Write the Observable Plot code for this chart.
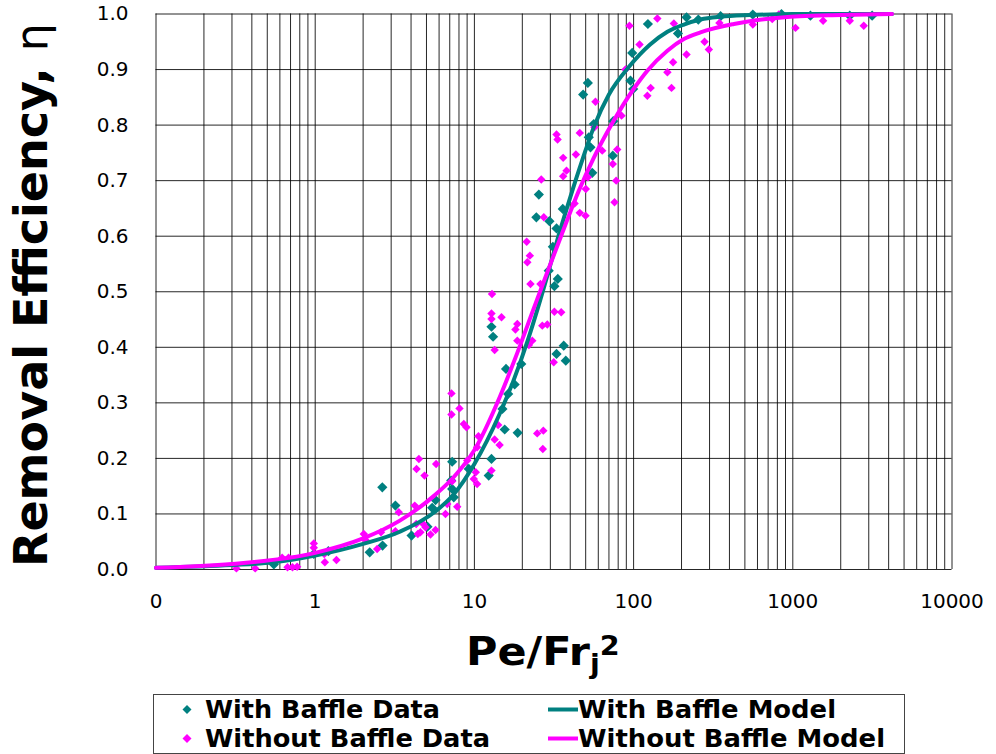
<!DOCTYPE html>
<html>
<head>
<meta charset="utf-8">
<script src="https://cdn.jsdelivr.net/npm/d3@7"></script>
<script src="https://cdn.jsdelivr.net/npm/@observablehq/plot@0.6"></script>
<style>
  body { margin: 0; background: #fff; }
  #chart { width: 996px; font-family: "DejaVu Sans", Verdana, sans-serif; }
  #chart svg { display: block; }
</style>
</head>
<body>
<div id="chart"></div>
<script>
// Measured removal efficiency with the baffle installed: [Pe/Frj², η]
const withBaffleData = [
  [0.55, 0.009], [0.98, 0.028], [1.21, 0.033], [2.2, 0.031], [2.65, 0.043],
  [2.64, 0.148], [3.19, 0.115], [4.03, 0.061], [5.07, 0.077], [5.43, 0.111],
  [5.7, 0.125], [7.25, 0.194], [7.15, 0.160], [7.25, 0.145], [7.42, 0.130],
  [9.22, 0.181], [12.8, 0.199], [12.3, 0.169], [15.0, 0.289], [15.5, 0.252],
  [18.7, 0.246], [16.3, 0.316], [17.9, 0.333], [15.8, 0.361], [19.7, 0.370],
  [12.8, 0.437], [13.1, 0.419], [29.3, 0.538], [33.4, 0.523], [31.8, 0.510],
  [36.4, 0.403], [32.8, 0.388], [37.5, 0.376], [31.1, 0.581], [32.8, 0.614],
  [29.6, 0.627], [24.5, 0.634], [25.4, 0.675], [35.9, 0.649], [55.0, 0.714],
  [74.0, 0.745], [53.6, 0.760], [52.3, 0.778], [56.2, 0.802], [74.5, 0.807],
  [48.2, 0.855], [51.6, 0.876], [99.4, 0.865], [95.6, 0.880], [98, 0.930],
  [123, 0.982], [190, 0.965], [215, 0.994], [255, 0.990], [352, 0.996],
  [561, 0.999], [849, 1.0], [1290, 0.997], [2280, 0.997], [3150, 0.997]
];

// Measured removal efficiency without the baffle: [Pe/Frj², η]
const withoutBaffleData = [
  [0.32, 0.002], [0.42, 0.002], [0.62, 0.021], [0.68, 0.021], [0.67, 0.004],
  [0.72, 0.004], [0.77, 0.005], [0.98, 0.047], [0.98, 0.039], [1.15, 0.013],
  [1.14, 0.028], [1.36, 0.017], [2.02, 0.064], [2.07, 0.053], [2.45, 0.037],
  [2.59, 0.067], [3.19, 0.069], [3.35, 0.103], [4.22, 0.115], [4.33, 0.181],
  [4.48, 0.199], [4.86, 0.169], [5.75, 0.190], [4.31, 0.082], [4.77, 0.082],
  [4.93, 0.076], [4.41, 0.064], [4.58, 0.067], [5.30, 0.063], [5.70, 0.071],
  [6.58, 0.100], [6.75, 0.118], [7.80, 0.113], [7.25, 0.159], [7.18, 0.317],
  [7.18, 0.279], [8.06, 0.290], [8.58, 0.262], [8.92, 0.256], [9.01, 0.196],
  [10.2, 0.175], [9.91, 0.163], [10.4, 0.154], [10.6, 0.240], [10.4, 0.220],
  [12.8, 0.178], [13.4, 0.234], [14.4, 0.224], [14.1, 0.260], [12.9, 0.496],
  [12.8, 0.461], [12.8, 0.451], [14.8, 0.454], [13.4, 0.395], [18.6, 0.442],
  [18.1, 0.432], [18.6, 0.412], [23.1, 0.412], [22.0, 0.404], [31.5, 0.373],
  [24.8, 0.245], [27.1, 0.250], [26.9, 0.217], [22.3, 0.565], [21.5, 0.553],
  [22.5, 0.514], [26.0, 0.514], [26.7, 0.439], [28.7, 0.441], [31.8, 0.464],
  [35.1, 0.463], [21.3, 0.590], [26.3, 0.702], [27.3, 0.634], [32.8, 0.783],
  [33.3, 0.774], [36.1, 0.741], [36.1, 0.708], [37.9, 0.718], [43.4, 0.747],
  [45.9, 0.786], [42.6, 0.659], [45.9, 0.642], [49.9, 0.637], [50.1, 0.685],
  [51.6, 0.706], [57.6, 0.842], [56.8, 0.796], [63.5, 0.754], [74.0, 0.730],
  [77.7, 0.700], [75.9, 0.661], [78.9, 0.756], [84.0, 0.817], [88.9, 0.900],
  [94.2, 0.979], [109, 0.945], [122, 0.853], [128, 0.867], [141, 0.992],
  [163, 0.895], [177, 0.913], [173, 0.867], [179, 0.983], [215, 0.927],
  [279, 0.950], [297, 0.936], [346, 0.984], [561, 0.981], [743, 0.991],
  [817, 0.999], [1040, 0.975], [1550, 0.988], [2280, 0.988], [2790, 0.979]
];

// Fitted model curves: [Pe/Frj², η]
const withBaffleModel = [
  [0.1, 0.003], [0.3, 0.008], [0.55, 0.013], [1, 0.025], [2, 0.046],
  [3.4, 0.068], [5.6, 0.103], [7.4, 0.135], [10, 0.190], [14.4, 0.280],
  [17.6, 0.340], [21.5, 0.410], [25, 0.470], [29.3, 0.538], [33.3, 0.595],
  [40, 0.670], [48, 0.740], [56, 0.795], [70, 0.855], [93, 0.904],
  [127, 0.945], [163, 0.968], [207, 0.981], [263, 0.990], [352, 0.995],
  [540, 0.998], [1000, 1.0], [4200, 1.0]
];
const withoutBaffleModel = [
  [0.1, 0.003], [0.3, 0.010], [1, 0.030], [2, 0.056], [3.4, 0.088],
  [5.6, 0.133], [7.4, 0.166], [10, 0.215], [14.5, 0.312], [18.6, 0.390],
  [23.6, 0.470], [28.7, 0.535], [35, 0.600], [45, 0.680], [56, 0.740],
  [74, 0.805], [100, 0.865], [122, 0.898], [163, 0.934], [207, 0.955],
  [263, 0.967], [427, 0.982], [680, 0.991], [1100, 0.996], [2000, 0.998],
  [4200, 1.0]
];

// Axis ticks and labels
const xTicks = [0.1, 1, 10, 100, 1000, 10000];
const xTickLabels = ["0", "1", "10", "100", "1000", "10000"];
const yTicks = [0, 0.1, 0.2, 0.3, 0.4, 0.5, 0.6, 0.7, 0.8, 0.9, 1.0];

const teal = "#008080";
const magenta = "#ff00ff";
const font = "'DejaVu Sans', Verdana, sans-serif";

// Minor log grid: 1–9 in every decade
const xGrid = d3.scaleLog().domain([0.1, 10000]).ticks();

const px = d => d[0], py = d => d[1];

const plot = Plot.plot({
  width: 996,
  height: 690,
  marginLeft: 155.5,
  marginRight: 44.5,
  marginTop: 13.5,
  marginBottom: 121,
  style: { fontFamily: font, fontSize: "20px", color: "#000", background: "#fff" },
  x: {
    type: "log", domain: [0.1, 10000], ticks: xTicks,
    tickFormat: d => xTickLabels[xTicks.indexOf(d)],
    tickSize: 0, tickPadding: 24, label: null
  },
  y: {
    domain: [0, 1], ticks: yTicks, tickFormat: d3.format(".1f"),
    tickSize: 0, tickPadding: 27.5, label: null
  },
  marks: [
    Plot.ruleX(xGrid, { stroke: "#000", strokeWidth: 1, strokeOpacity: 0.85 }),
    Plot.ruleY(yTicks, { stroke: "#000", strokeWidth: 1, strokeOpacity: 0.85 }),
    Plot.dot(withBaffleData, { x: px, y: py, symbol: "diamond2", r: 4.6, fill: teal, stroke: "none" }),
    Plot.dot(withoutBaffleData, { x: px, y: py, symbol: "diamond2", r: 3.8, fill: magenta, stroke: "none" }),
    Plot.line(withBaffleModel, { x: px, y: py, stroke: teal, strokeWidth: 4, curve: "monotone-x" }),
    Plot.line(withoutBaffleModel, { x: px, y: py, stroke: magenta, strokeWidth: 4, curve: "monotone-x" })
  ]
});

// Axis titles
const svg = d3.select(plot);
const yTitle = svg.append("text")
  .attr("transform", "translate(47,567) rotate(-90)")
  .attr("text-anchor", "start")
  .attr("font-family", font)
  .attr("fill", "#000");
yTitle.append("tspan").attr("font-weight", "bold").attr("font-size", 46).text("Removal Efficiency, ");
yTitle.append("tspan").attr("font-weight", "normal").attr("font-size", 44).text("η");

const xTitle = svg.append("text")
  .attr("transform", "translate(466,665) scale(1.1,1)")
  .attr("text-anchor", "start")
  .attr("font-family", font).attr("font-weight", "bold")
  .attr("font-size", 39).attr("fill", "#000");
xTitle.append("tspan").text("Pe/Fr");
xTitle.append("tspan").attr("font-size", 26).attr("dy", 8).text("j");
xTitle.append("tspan").attr("font-size", 26).attr("dy", -18).text("2");

document.getElementById("chart").appendChild(plot);

// Legend below the chart
const legend = d3.create("svg").attr("width", 996).attr("height", 64);
legend.append("rect")
  .attr("x", 153.5).attr("y", 4.5).attr("width", 751).attr("height", 59)
  .attr("fill", "#fff").attr("stroke", "#444").attr("stroke-width", 1);

const legendItems = [
  { label: "With Baffle Data", color: teal, kind: "dot", x: 187, y: 19.5, len: 235 },
  { label: "Without Baffle Data", color: magenta, kind: "dot", x: 187, y: 48.5, len: 285 },
  { label: "With Baffle Model", color: teal, kind: "line", x: 548, y: 19.5, len: 258 },
  { label: "Without Baffle Model", color: magenta, kind: "line", x: 548, y: 48.5, len: 307 }
];
for (const item of legendItems) {
  let textX;
  if (item.kind === "dot") {
    const s = 4.5;
    legend.append("path")
      .attr("d", `M${item.x},${item.y - s}L${item.x + s},${item.y}L${item.x},${item.y + s}L${item.x - s},${item.y}Z`)
      .attr("fill", item.color);
    textX = 205;
  } else {
    legend.append("line")
      .attr("x1", item.x).attr("x2", item.x + 30)
      .attr("y1", item.y).attr("y2", item.y)
      .attr("stroke", item.color).attr("stroke-width", 4);
    textX = 578;
  }
  legend.append("text")
    .attr("x", textX).attr("y", item.y + 8.5)
    .attr("font-family", font).attr("font-weight", "bold").attr("font-size", 24)
    .attr("textLength", item.len).attr("lengthAdjust", "spacingAndGlyphs")
    .attr("fill", "#000")
    .text(item.label);
}
document.getElementById("chart").appendChild(legend.node());
</script>
</body>
</html>
